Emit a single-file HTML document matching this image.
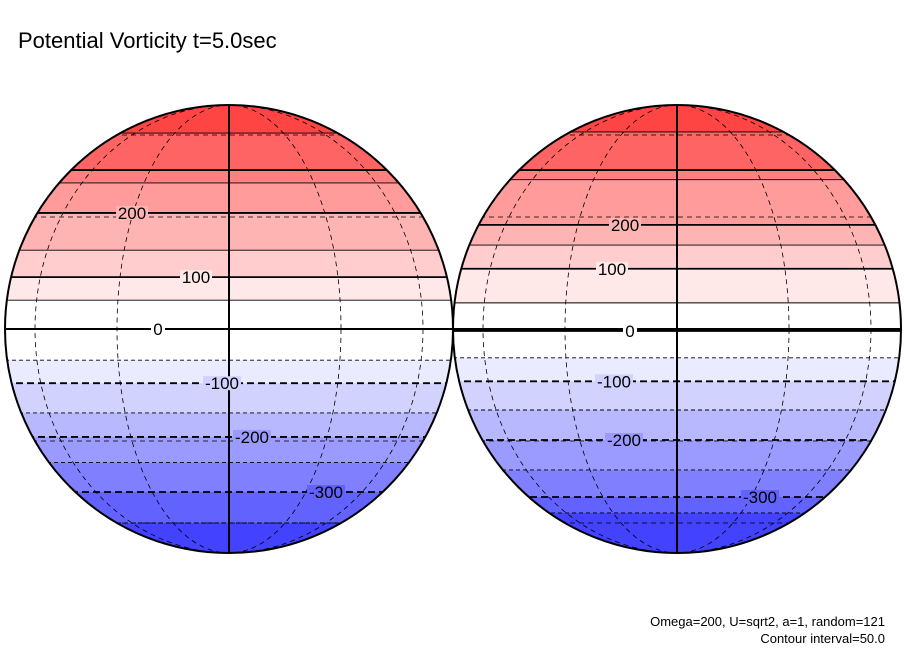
<!DOCTYPE html>
<html><head><meta charset="utf-8"><style>
body{margin:0;background:#fff;width:904px;height:654px;overflow:hidden}
svg{display:block}
text{font-family:"Liberation Sans",sans-serif}
</style></head><body>
<svg id="chart" width="904" height="654">
<text x="18" y="48" font-size="22">Potential Vorticity t=5.0sec</text>
<text x="885" y="626" font-size="13" text-anchor="end">Omega=200, U=sqrt2, a=1, random=121</text>
<text x="885" y="643" font-size="13" text-anchor="end">Contour interval=50.0</text>
</svg>
<script>
const levels=[350,300,250,200,150,100,50,0,-50,-100,-150,-200,-250,-300,-350];
const leftLat=[61.0,45.2,40.7,31.2,20.6,13.4,7.4,0,-8.0,-14.0,-22.0,-28.8,-36.6,-46.7,-60.0];
const rightLat=[61.6,45.2,41.8,27.7,22.0,15.6,6.7,-0.5,-7.4,-13.5,-21.2,-29.7,-39.0,-48.6,-55.2];
const leftLabels=[200,100,0,-100,-200,-300];
const rightLabels=[200,100,0,-100,-200,-300];
const bandColors=['#ff4444','#ff6464','#ff8080','#ff9b9b','#ffb4b4','#ffcdcd','#ffe8e8','#ffffff','#ffffff','#ebebff','#d2d2ff','#b8b8ff','#9b9bff','#8080ff','#6262ff','#4242ff'];
const NS='http://www.w3.org/2000/svg';
const svg=document.getElementById('chart');
const R=224;
function mk(tag,attrs,parent){const e=document.createElementNS(NS,tag);for(const k in attrs)e.setAttribute(k,attrs[k]);(parent||svg).appendChild(e);return e;}
function latY(cy,lat){return cy-R*Math.sin(lat*Math.PI/180);}
function globe(cx,cy,lats,labels,id,labelX){
  const g=mk('g',{});
  
  
  const cp=mk('clipPath',{id:'clip-'+id},g);
  mk('circle',{cx:cx,cy:cy,r:R},cp);
  const inner=mk('g',{'clip-path':'url(#clip-'+id+')'},g);
  const bg=mk('rect',{x:cx-R,y:cy-R,width:2*R,height:2*R,fill:bandColors[0]},inner);
  
  
  levels.forEach((lv,i)=>{
    const y=latY(cy,lats[i]);
    const b=mk('rect',{x:cx-R,y:y,width:2*R,height:cy+R-y,fill:bandColors[i+1]},inner);
    
    
  });
  levels.forEach((lv,i)=>{
    const y=latY(cy,lats[i]);
    const thick=lv%100===0;
    const l=mk('line',{x1:cx-R,x2:cx+R,y1:y,y2:y,stroke:'#000','stroke-width':thick?1.8:0.9,'stroke-dasharray':lv<0?(thick?'7,4':'4,3'):'none'},inner);
    
    
  });
  [30,60].forEach(lo=>{
    const rx=R*Math.sin(lo*Math.PI/180);
    const e=mk('ellipse',{cx:cx,cy:cy,rx:rx,ry:R,fill:'none',stroke:'#000','stroke-width':0.8,'stroke-dasharray':'5,4'},inner);
    
    
  });
  [60,30,-30,-60].forEach(la=>{
    const y=latY(cy,la);
    const p=mk('line',{x1:cx-R,x2:cx+R,y1:y,y2:y,stroke:'#000','stroke-width':0.8,'stroke-dasharray':'5,4'},inner);
    
    
  });
  const eq=mk('line',{x1:cx-R,x2:cx+R,y1:cy,y2:cy,stroke:'#000','stroke-width':2},inner);
  
  
  const cm=mk('line',{x1:cx,x2:cx,y1:cy-R,y2:cy+R,stroke:'#000','stroke-width':2},inner);
  
  
  labels.forEach((lv,k)=>{
    const i=levels.indexOf(lv);
    const y=latY(cy,lats[i]);
    const bgw=lv<0?38:(lv===0?14:32);
    mk('rect',{x:labelX[k]-bgw/2,y:y-7,width:bgw,height:14,fill:bandColors[i+1]},inner);
    const t=mk('text',{x:labelX[k],y:y+6,'font-size':17,'text-anchor':'middle'},inner);
    t.textContent=String(lv);
    
    
  });
  const o=mk('circle',{cx:cx,cy:cy,r:R,fill:'none',stroke:'#000','stroke-width':2},g);
  
  
}
globe(229,329,leftLat,leftLabels,'left-globe',[132,196,158,222,252,326]);
globe(677,329,rightLat,rightLabels,'right-globe',[625,612,630,614,624,760]);
</script>
</body></html>
